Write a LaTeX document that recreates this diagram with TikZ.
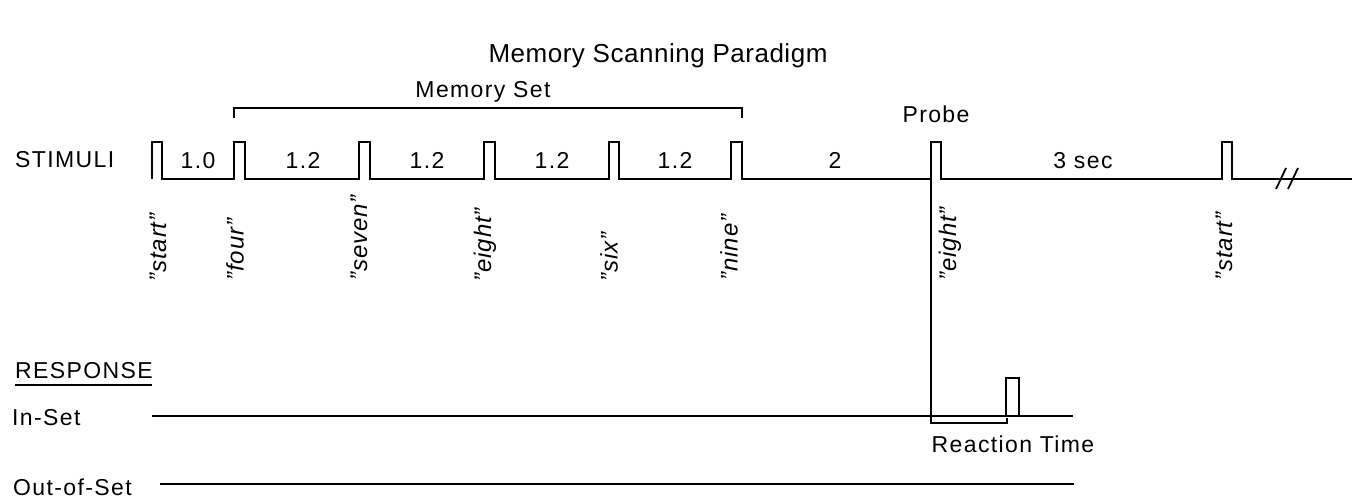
\documentclass[tikz,border=0pt]{standalone}
\usepackage{fontspec}
\setmainfont{Liberation Sans}
\begin{document}
\begin{tikzpicture}[x=1pt,y=-1pt,
  trace/.style={line width=1.8pt, line join=miter},
  lbl/.style={inner sep=0pt, anchor=base,
    font=\fontsize{23}{25}\selectfont\addfontfeature{LetterSpace=6}},
  word/.style={inner sep=0pt, rotate=90, anchor=west,
    font=\fontsize{24}{26}\selectfont\itshape\addfontfeature{LetterSpace=4}}]
\useasboundingbox (0,0) rectangle (1358,498);

% title
\node[inner sep=0pt, anchor=base, font=\fontsize{26}{28}\selectfont\addfontfeature{LetterSpace=2}] (title) at (658,62) {Memory Scanning Paradigm};

% stimulus trace: one pulse per spoken item, then a broken tail
\draw[trace] (152,179) -- (152,142) -- (162,142) -- (162,179)
  -- (234,179) -- (234,142) -- (245,142) -- (245,179)
  -- (359,179) -- (359,142) -- (370,142) -- (370,179)
  -- (484,179) -- (484,142) -- (495,142) -- (495,179)
  -- (609,179) -- (609,142) -- (619,142) -- (619,179)
  -- (731,179) -- (731,142) -- (742,142) -- (742,179)
  -- (931,179) -- (931,142) -- (941,142) -- (941,179)
  -- (1222,179) -- (1222,142) -- (1232,142) -- (1232,179)
  -- (1352,179);
\coordinate (probe) at (931,179);
\draw[trace] (1276,189) -- (1286,168);
\draw[trace] (1288,189) -- (1298,168);

\node[lbl, anchor=base west] (stim) at (15,167) {STIMULI};

% memory set bracket
\draw[trace] (234,118) -- (234,108) -- (742,108) -- (742,118);
\node[lbl] (mset) at (483,97) {Memory Set};
\node[lbl] (probelbl) at (936,122) {Probe};

% inter-stimulus intervals
\node[lbl] at (198,168) {1.0};
\node[lbl] at (303,168) {1.2};
\node[lbl] at (427,168) {1.2};
\node[lbl] at (552,168) {1.2};
\node[lbl] at (675,168) {1.2};
\node[lbl] at (835,168) {2};
\node[lbl] at (1083,168) {3 sec};

% spoken items
\node[word] (w1) at (158,282) {"start"};
\node[word] (w2) at (235,281) {"four"};
\node[word] (w3) at (359,281) {"seven"};
\node[word] (w4) at (485,282) {"eight"};
\node[word] (w5) at (609,282) {"six"};
\node[word] (w6) at (729,281) {"nine"};
\node[word] (w7) at (950,281) {"eight"};
\node[word] (w8) at (1224,281) {"start"};

% responses
\node[lbl, anchor=base west] (resp) at (15,378) {RESPONSE};
\draw[trace] (15,385) -- (152,385);
\node[lbl, anchor=base west] (inset) at (12,425) {In-Set};
\node[lbl, anchor=base west] (outset) at (13,495) {Out-of-Set};
\coordinate (inA) at (152,416);
\coordinate (inB) at (1073,416);
\coordinate (outA) at (160,484);
\coordinate (outB) at (1074,484);
\draw[trace] (inA) -- (inB);
\draw[trace] (outA) -- (outB);
\draw[trace] (1006,416) -- (1006,378) -- (1019,378) -- (1019,416);
\coordinate (rtL) at (931,423);
\coordinate (rtR) at (1007,423);
\draw[trace] (probe) -- (rtL) -- (rtR) -- ++(0,-5);
\node[lbl] (rt) at (1013,452) {Reaction Time};
\end{tikzpicture}
\end{document}
